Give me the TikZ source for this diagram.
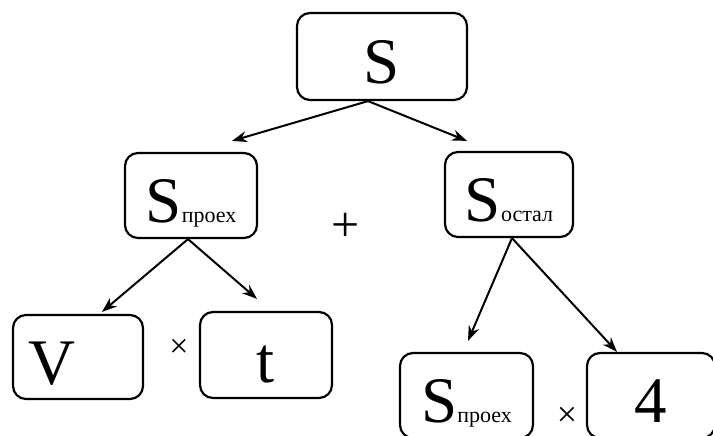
\documentclass[tikz,border=0pt]{standalone}
\usepackage{fontspec}
\setmainfont{Liberation Serif}
\usepackage{tikz}
\usetikzlibrary{arrows.meta,positioning}
\newcommand{\bigS}{{\fontsize{65}{65}\selectfont S}}
\newcommand{\subtxt}[1]{{\fontsize{22}{22}\selectfont #1}}
\tikzset{
  % rounded box
  box/.style={
    draw,
    line width=2.2pt,
    rounded corners=13pt,
    inner sep=0pt,
    text height=54pt,
    text depth=0pt,
    font=\fontsize{65}{65}\selectfont
  },
  % operator sign
  op/.style={inner sep=0pt},
  % arrow
  arr/.style={-{Stealth[length=15pt,width=11pt]}, line width=2pt},
}

\begin{document}
\begin{tikzpicture}[x=1pt, y=-1pt]
    \clip (0,0) rectangle (713,436);
    \useasboundingbox (0,0) rectangle (713,436);

    % top
    \node[box, minimum width=170pt, minimum height=87pt] (s) at (382,56.5) {S};

    % second level
    \node[box, minimum width=132pt, minimum height=85pt] (sp) at (191,195.5) {\bigS\subtxt{проех}};
    \node[box, minimum width=128pt, minimum height=85pt] (so) at (509,194.5) {\bigS\subtxt{остал}};
    \node[op, font=\fontsize{50}{50}\selectfont] (plus) at (346,227) {+};

    % bottom left
    \node[box, minimum width=130pt, minimum height=84pt] (v) at (78,357) {V\hspace*{52pt}};
    \node[box, minimum width=132pt, minimum height=86pt] (t) at (266,355) {t};
    \node[op, font=\fontsize{34}{34}\selectfont] (mul1) at (179,348) {×};

    % bottom right
    \node[box, minimum width=133pt, minimum height=85pt] (sp2) at (466.5,395.5) {\bigS\subtxt{проех}};
    \node[box, minimum width=128pt, minimum height=85pt] (four) at (651,395.5) {4};
    \node[op, font=\fontsize{36}{36}\selectfont] (mul2) at (567,417) {×};

    % arrows
    \draw[arr] ([xshift=-14pt]s.south) -- ([xshift=41pt, yshift=11pt]sp.north);
    \draw[arr] ([xshift=-14pt]s.south) -- ([xshift=-42pt, yshift=10pt]so.north);
    \draw[arr] ([xshift=-3pt]sp.south) -- ([xshift=24pt, yshift=2pt]v.north);
    \draw[arr] ([xshift=-3pt]sp.south) -- ([xshift=-9pt, yshift=12pt]t.north);
    \draw[arr] ([xshift=3pt]so.south) -- ([xshift=1.5pt, yshift=11pt]sp2.north);
    \draw[arr] ([xshift=3pt]so.south) -- ([xshift=-34pt]four.north);
\end{tikzpicture}
\end{document}
